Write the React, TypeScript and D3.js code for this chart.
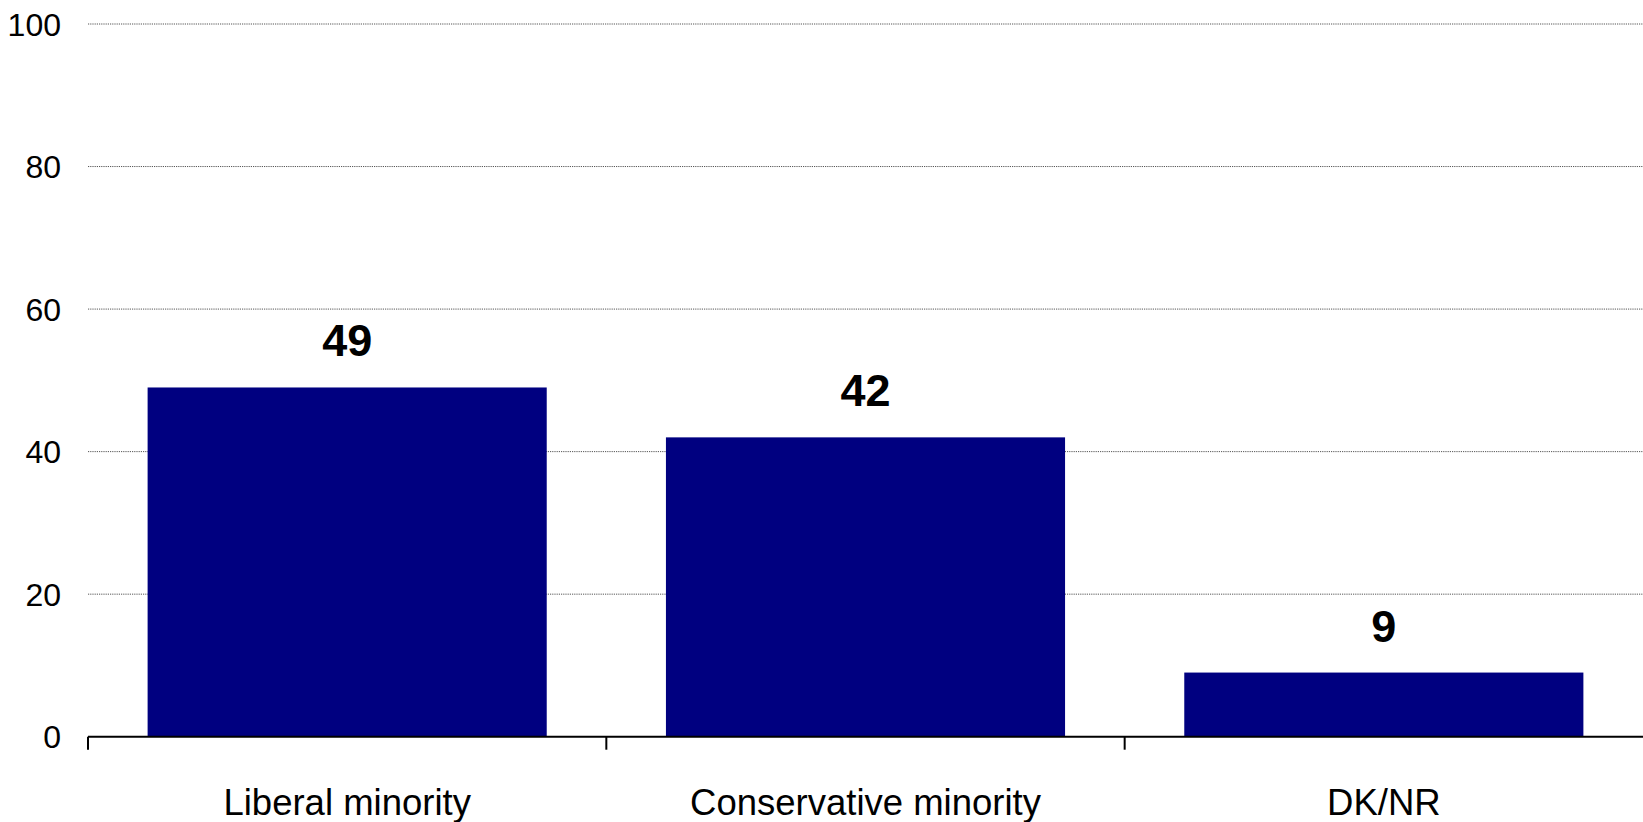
import React from "react";
import * as d3 from "d3";

const categories = ["Liberal minority", "Conservative minority", "DK/NR"];
const values = [49, 42, 9];
const yTicks = [0, 20, 40, 60, 80, 100];

const W = 1643;
const H = 822;
const FONT = "'Liberation Sans', Arial, Helvetica, sans-serif";

export default function App() {
  const x = d3
    .scaleBand<string>()
    .domain(categories)
    .range([88, 1643])
    .paddingInner(0.23)
    .paddingOuter(0.115);
  const y = d3.scaleLinear().domain([0, 100]).range([736.7, 24]);
  const step = x.step();
  const x0 = 88;
  const boundaries = d3.range(categories.length).map((i) => x0 + i * step);

  return (
    <svg
      width={W}
      height={H}
      style={{ position: "absolute", left: 0, top: 0, background: "#fff" }}
      fontFamily={FONT}
    >
      {yTicks.filter((t) => t > 0).map((t) => (
        <line
          key={"g" + t}
          x1={88}
          x2={W}
          y1={y(t)}
          y2={y(t)}
          stroke="#555"
          strokeWidth={1}
          strokeDasharray="1.2,1"
        />
      ))}
      {yTicks.map((t) => (
        <text
          key={"t" + t}
          x={61}
          y={y(t)}
          dy="0.36em"
          textAnchor="end"
          fontSize={32}
          fill="#000"
        >
          {t}
        </text>
      ))}
      {categories.map((c, i) => (
        <rect
          key={"b" + c}
          x={x(c)}
          y={y(values[i])}
          width={x.bandwidth()}
          height={y(0) - y(values[i])}
          fill="#000080"
        />
      ))}
      {categories.map((c, i) => (
        <text
          key={"v" + c}
          x={(x(c) as number) + x.bandwidth() / 2}
          y={y(values[i]) - 31}
          textAnchor="middle"
          fontSize={45}
          fontWeight="bold"
          fill="#000"
        >
          {values[i]}
        </text>
      ))}
      <line x1={88} x2={W} y1={y(0)} y2={y(0)} stroke="#000" strokeWidth={2} />
      {boundaries.map((bx, i) => (
        <line
          key={"tk" + i}
          x1={bx}
          x2={bx}
          y1={y(0)}
          y2={y(0) + 13}
          stroke="#000"
          strokeWidth={2}
        />
      ))}
      {categories.map((c) => (
        <text
          key={"c" + c}
          x={(x(c) as number) + x.bandwidth() / 2}
          y={815}
          textAnchor="middle"
          fontSize={36.5}
          fill="#000"
        >
          {c}
        </text>
      ))}
    </svg>
  );
}
